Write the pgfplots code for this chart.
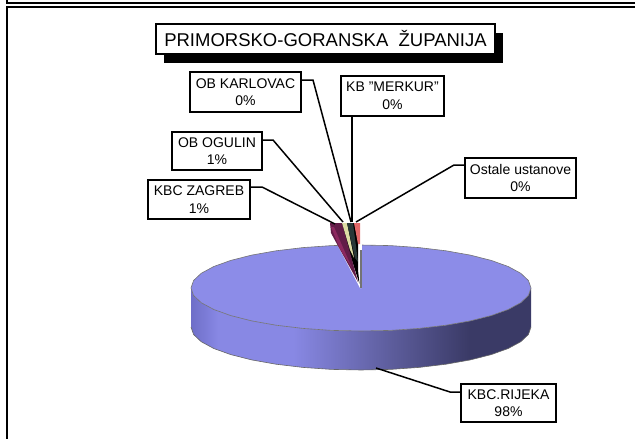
\documentclass[border=0pt]{standalone}
\usepackage{fontspec}
\setmainfont{Liberation Sans}
\usepackage{pgfplots}
\pgfplotsset{compat=1.18}
\definecolor{rimA}{HTML}{6E6EC8}
\definecolor{rimB}{HTML}{8888E4}
\definecolor{rimC}{HTML}{5E5E9E}
\definecolor{rimD}{HTML}{3A3A66}
\definecolor{top}{HTML}{8C8CE8}
\pgfdeclarehorizontalshading{rim}{100bp}{
  color(0bp)=(rimA); color(25bp)=(rimA); color(29bp)=(rimB); color(40bp)=(rimB); color(54bp)=(rimC); color(66bp)=(rimD); color(100bp)=(rimD)}
\tikzset{lab/.style={draw=black,line width=1.2pt,fill=white,inner sep=0pt,align=center,font=\fontsize{14}{17.5}\selectfont,text=black}}
\begin{document}
\begin{tikzpicture}
\begin{axis}[scale only axis,width=635pt,height=439pt,xmin=0,xmax=635,ymin=0,ymax=439,y dir=reverse,hide axis]
\path[use as bounding box] (axis cs:0,0) rectangle (axis cs:635,439);
% frame
\addplot[black,line width=1.5pt,forget plot] coordinates {(7,0)(7,3)(635,3)};
\addplot[black,line width=1.5pt,forget plot] coordinates {(635,7)(7,7)(7,439)};
% pie side
\addplot[shading=rim,draw=none,forget plot] coordinates {
(531,288)(528.4,295.5)(520.8,302.7)(508.2,309.5)(491.2,315.6)(470.3,320.9)(446,325.2)(419.1,328.4)(390.5,330.4)(361,331)
(331.5,330.4)(302.9,328.4)(276,325.2)(251.7,320.9)(230.8,315.6)(213.8,309.5)(201.2,302.7)(193.6,295.5)(191,288)
(191,327)(193.6,334.5)(201.2,341.7)(213.8,348.5)(230.8,354.6)(251.7,359.9)(276,364.2)(302.9,367.4)(331.5,369.4)(361,370)
(390.5,369.4)(419.1,367.4)(446,364.2)(470.3,359.9)(491.2,354.6)(508.2,348.5)(520.8,341.7)(528.4,334.5)(531,327)(531,288)};
\addplot[color=black!60,line width=0.6pt,forget plot] coordinates {
(191,327)(193.6,334.5)(201.2,341.7)(213.8,348.5)(230.8,354.6)(251.7,359.9)(276,364.2)(302.9,367.4)(331.5,369.4)(361,370)
(390.5,369.4)(419.1,367.4)(446,364.2)(470.3,359.9)(491.2,354.6)(508.2,348.5)(520.8,341.7)(528.4,334.5)(531,327)};
% pie top
\addplot[fill=top,draw=black!55,line width=0.6pt,forget plot] coordinates {
(531,288)(528.4,295.5)(520.8,302.7)(508.2,309.5)(491.2,315.6)(470.3,320.9)(446,325.2)(419.1,328.4)(390.5,330.4)(361,331)
(331.5,330.4)(302.9,328.4)(276,325.2)(251.7,320.9)(230.8,315.6)(213.8,309.5)(201.2,302.7)(193.6,295.5)(191,288)
(193.6,280.5)(201.2,273.3)(213.8,266.5)(230.8,260.4)(251.7,255.1)(276,250.8)(302.9,247.6)(331.5,245.6)(361,245)
(390.5,245.6)(419.1,247.6)(446,250.8)(470.3,255.1)(491.2,260.4)(508.2,266.5)(520.8,273.3)(528.4,280.5)(531,288)};
% small slices
\addplot[fill=white,draw=none,forget plot] coordinates {(337,244)(362,244)(361.5,288)(360,288)};
\addplot[fill=black!55,draw=none,forget plot] coordinates {(360,250)(361.5,250)(361.5,288)(360,288)};
\addplot[fill=black,draw=none,forget plot] coordinates {(340,223)(358,223)(358,270)(359.5,284)};
\addplot[fill={rgb,255:red,98;green,28;blue,72},draw=none,forget plot] coordinates {(330,223)(342,223)(358,282)(338,246)(331,233)};
\addplot[fill={rgb,255:red,140;green,40;blue,95},draw=none,forget plot] coordinates {(331,227)(334,227)(352,268)(340,249)};
\addplot[fill={rgb,255:red,222;green,220;blue,165},draw=none,forget plot] coordinates {(342,223)(347,223)(354,258)(350,250)};
\addplot[fill={rgb,255:red,40;green,56;blue,56},draw=none,forget plot] coordinates {(347,223)(353,223)(358,262)(355,258)};
\addplot[fill={rgb,255:red,226;green,104;blue,104},draw=none,forget plot] coordinates {(354,223)(360,223)(360,244)(358,244)};
% leaders
\addplot[black,line width=1.5pt,forget plot] coordinates {(301,80)(313,80)(351,222)};
\addplot[black,line width=1.5pt,forget plot] coordinates {(352,116)(352,222)};
\addplot[black,line width=1.5pt,forget plot] coordinates {(262,140)(273,140)(343,222)};
\addplot[black,line width=1.5pt,forget plot] coordinates {(250,187)(262,187)(335,224)};
\addplot[black,line width=1.5pt,forget plot] coordinates {(465,165)(454,165)(356,222)};
\addplot[black,line width=1.5pt,forget plot] coordinates {(376,368)(450,392)(461,392)};
% title
\addplot[fill=black,draw=none,forget plot] coordinates {(164,33)(503,33)(503,63)(164,63)};
\node[draw=black,line width=1.2pt,fill=white,minimum width=339pt,minimum height=30pt,inner sep=0pt,font=\fontsize{18.5}{20}\selectfont] at (axis cs:325.5,39) {PRIMORSKO-GORANSKA\ \ ŽUPANIJA};
% labels
\node[lab,minimum width=111pt,minimum height=40pt] at (axis cs:245.5,92) {OB KARLOVAC\\0\%};
\node[lab,minimum width=103pt,minimum height=40pt] at (axis cs:392.5,96) {KB "MERKUR"\\0\%};
\node[lab,minimum width=90pt,minimum height=38pt] at (axis cs:217,151) {OB OGULIN\\1\%};
\node[lab,minimum width=102pt,minimum height=39pt] at (axis cs:199,199.5) {KBC ZAGREB\\1\%};
\node[lab,minimum width=111pt,minimum height=40pt] at (axis cs:520.5,178) {Ostale ustanove\\0\%};
\node[lab,minimum width=95pt,minimum height=38pt] at (axis cs:508.5,403) {KBC.RIJEKA\\98\%};
\end{axis}
\end{tikzpicture}
\end{document}
